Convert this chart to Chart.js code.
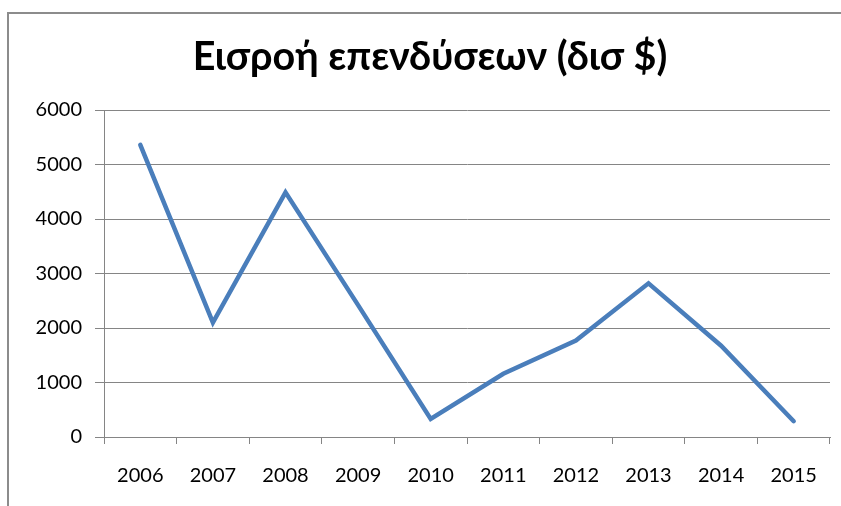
<!DOCTYPE html>
<html>
<head>
<meta charset="utf-8">
<script src="https://cdn.jsdelivr.net/npm/chart.js@4"></script>
<style>
  html, body { margin: 0; padding: 0; background: #fff; }
  #wrap { position: relative; width: 841px; height: 506px; overflow: hidden; }
  #frame { position: absolute; left: 7px; top: 12px; width: 900px; height: 600px;
           border-left: 2px solid #8c8c8c; border-top: 2px solid #8c8c8c; }
  canvas { position: absolute; left: 0; top: 0; }
</style>
</head>
<body>
<div id="wrap">
  <div id="frame"></div>
  <canvas id="c" width="841" height="506"></canvas>
</div>
<script>
const titleText = 'Εισροή επενδύσεων (δισ $)';
const years = ['2006','2007','2008','2009','2010','2011','2012','2013','2014','2015'];
const inflows = [5360, 2100, 4490, 2420, 330, 1160, 1770, 2820, 1675, 290];
const yTicks = [0, 1000, 2000, 3000, 4000, 5000, 6000];

const fontFamily = 'Lato, "Open Sans", sans-serif';
const gridColor = '#858585';

new Chart(document.getElementById('c'), {
  type: 'line',
  data: {
    labels: years,
    datasets: [{
      data: inflows,
      borderColor: '#4a7ebb',
      borderWidth: 4.5,
      pointRadius: 0,
      pointHoverRadius: 0,
      tension: 0,
      borderCapStyle: 'round',
      borderJoinStyle: 'miter',
      fill: false
    }]
  },
  options: {
    responsive: false,
    animation: false,
    layout: { padding: { left: 30, right: 11, top: 0, bottom: 0 } },
    plugins: {
      legend: { display: false },
      tooltip: { enabled: false },
      title: {
        display: true,
        text: titleText,
        color: '#000',
        font: { family: fontFamily, size: 39.5, weight: 'bold', lineHeight: 1.2 },
        padding: { top: 34, bottom: 28.6 }
      }
    },
    scales: {
      x: {
        offset: true,
        grid: { offset: true, drawOnChartArea: false, color: gridColor, tickLength: 7, tickColor: gridColor },
        border: { color: gridColor, width: 1 },
        ticks: { color: '#000', font: { family: fontFamily, size: 20 }, padding: 20, maxRotation: 0 },
        afterFit: (s) => { s.height = 69; }
      },
      y: {
        min: 0, max: 6000,
        afterBuildTicks: (s) => { s.ticks = yTicks.map(v => ({ value: v })); },
        grid: { color: gridColor, tickLength: 9, tickColor: gridColor },
        border: { color: gridColor, width: 1 },
        ticks: { color: '#000', font: { family: fontFamily, size: 20 }, padding: 13,
                 callback: (v) => String(v) },
        afterFit: (s) => { s.width = 74; }
      }
    }
  }
});
</script>
</body>
</html>
